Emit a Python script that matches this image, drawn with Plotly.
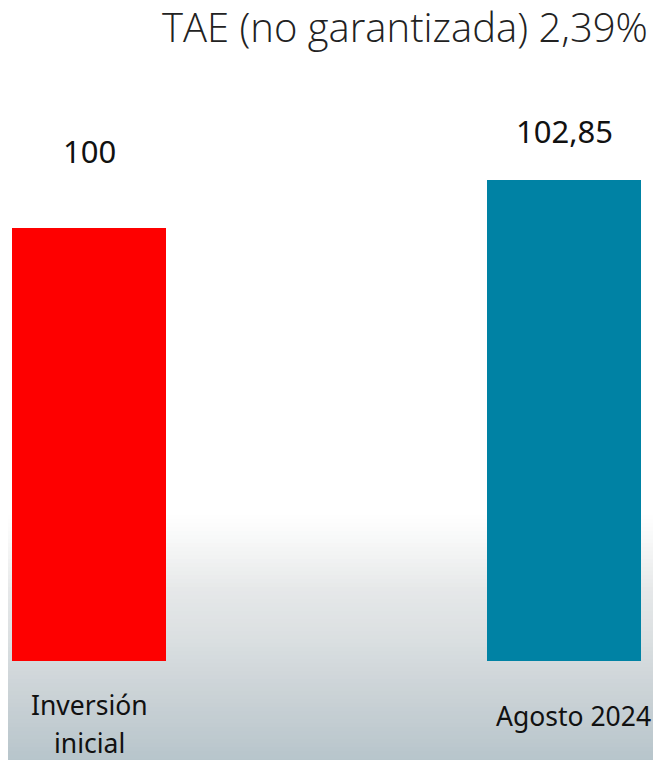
import plotly.graph_objects as go

categories = ["Inversión inicial", "Agosto 2024"]
cat_lines = [["Inversión", "inicial"], ["Agosto 2024"]]
values = [100, 102.85]
value_labels = ["100", "102,85"]
bar_colors = ["#fe0000", "#0082a4"]
title_text = "TAE (no garantizada) 2,39%"

OFF = 8              # page body margin
W, H = 661 - OFF, 760 - OFF
PH = 653             # plot area height in px
fig = go.Figure()
fig.add_trace(go.Bar(
    x=[0, 1], y=values, width=0.324,
    marker=dict(color=bar_colors, line=dict(width=0)),
    hoverinfo="skip",
))

# background gradient (page px -> paper coords)
stops = [(515, (255, 255, 255)), (550, (244, 245, 245)), (590, (230, 232, 233)),
         (640, (218, 223, 225)), (700, (201, 209, 213)), (760, (183, 197, 203))]

def color_at(p):
    for j in range(len(stops) - 1):
        if stops[j][0] <= p <= stops[j + 1][0]:
            t = (p - stops[j][0]) / (stops[j + 1][0] - stops[j][0])
            a, b = stops[j][1], stops[j + 1][1]
            return tuple(round(a[i] + (b[i] - a[i]) * t) for i in range(3))
    return stops[-1][1]

shapes = []
step = 4
p = 515
while p < 760:
    c = color_at(p + step / 2)
    fa, fb = p - OFF, p + step + 1 - OFF
    shapes.append(dict(type="rect", xref="paper", yref="paper",
                       x0=-0.02, x1=1.02, y0=1 - fb / PH, y1=1 - fa / PH,
                       fillcolor="rgb(%d,%d,%d)" % c, line=dict(width=0), layer="below"))
    p += step

annotations = []
shifts = [54, 26]
for i, (v, lab) in enumerate(zip(values, value_labels)):
    annotations.append(dict(x=i, y=v, text=lab, showarrow=False, yshift=shifts[i],
                            font=dict(family="Noto Sans", size=31, color="#111111"),
                            xanchor="center", yanchor="bottom"))
line_centers = [[705, 743], [716]]   # page px of text line centres
cat_x_shift = [0, 9]
for i, lines in enumerate(cat_lines):
    for ln, yc in zip(lines, line_centers[i]):
        annotations.append(dict(x=i, y=1 - (yc - OFF) / PH, yref="paper", text=ln,
                                showarrow=False, xshift=cat_x_shift[i],
                                font=dict(family="Noto Sans", size=26.5, color="#111111"),
                                xanchor="center", yanchor="middle"))
annotations.append(dict(x=(650 - OFF) / W, y=1 + 11 / PH, xref="paper", yref="paper",
                        text=title_text, showarrow=False, xanchor="right", yanchor="top",
                        font=dict(family="Open Sans", size=40, color="#222222", weight=300)))

fig.update_layout(
    width=W, height=H,
    margin=dict(l=0, r=0, t=0, b=H - PH),
    paper_bgcolor="white", plot_bgcolor="rgba(0,0,0,0)",
    showlegend=False,
    xaxis=dict(range=[-81 / 475, (W - 81) / 475], visible=False, fixedrange=True),
    yaxis=dict(range=[74.29, 74.29 + PH / 16.842], visible=False, fixedrange=True),
    shapes=shapes, annotations=annotations,
    bargap=0,
)
fig.write_html("out.html")
